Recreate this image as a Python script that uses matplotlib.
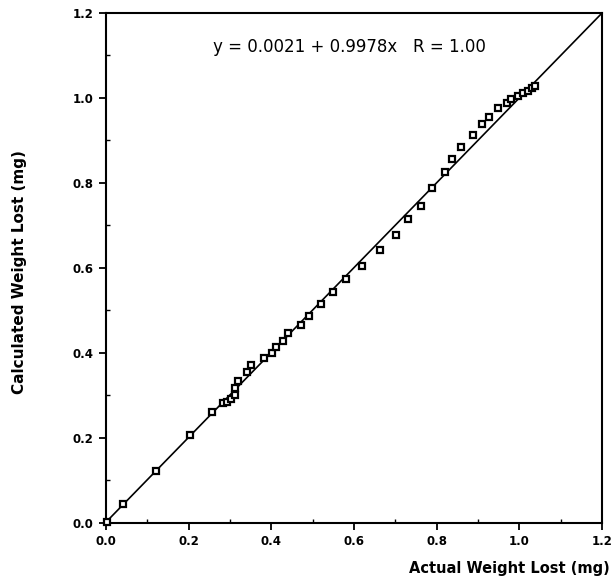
import numpy as np
import matplotlib.pyplot as plt
from matplotlib.ticker import MultipleLocator

# data
actual = [0.002, 0.040, 0.121, 0.202, 0.256, 0.283, 0.292, 0.303, 0.311, 0.312,
          0.319, 0.341, 0.350, 0.383, 0.401, 0.411, 0.429, 0.441, 0.471, 0.492,
          0.520, 0.550, 0.580, 0.619, 0.662, 0.701, 0.730, 0.762, 0.789, 0.819,
          0.837, 0.859, 0.889, 0.910, 0.927, 0.948, 0.969, 0.980, 0.998, 1.010,
          1.021, 1.031, 1.037]
calculated = [0.003, 0.044, 0.123, 0.207, 0.260, 0.282, 0.285, 0.292, 0.300, 0.317,
              0.334, 0.356, 0.372, 0.388, 0.401, 0.415, 0.428, 0.446, 0.466, 0.487,
              0.515, 0.543, 0.574, 0.605, 0.642, 0.678, 0.715, 0.746, 0.789, 0.825,
              0.856, 0.885, 0.913, 0.938, 0.956, 0.976, 0.988, 0.998, 1.005, 1.011,
              1.016, 1.023, 1.028]

intercept = 0.0021
slope = 0.9978
fit_x = [0.0, 1.2]

fig = plt.figure(figsize=(6.13, 5.85), dpi=100)
ax = fig.add_axes([0.173, 0.106, 0.809, 0.872])

ax.plot(fit_x, [intercept + slope * v for v in fit_x], color="black", lw=1.2)
ax.plot(actual, calculated, ls="none", marker="s", ms=4.8,
        mfc="white", mec="black", mew=1.6, clip_on=False, zorder=3)

ax.set_xlim(0, 1.2)
ax.set_ylim(0, 1.2)
ax.xaxis.set_major_locator(MultipleLocator(0.2))
ax.yaxis.set_major_locator(MultipleLocator(0.2))
ax.xaxis.set_minor_locator(MultipleLocator(0.1))
ax.yaxis.set_minor_locator(MultipleLocator(0.1))
ax.tick_params(which="major", direction="out", length=5, width=1.3,
               labelsize=8.5, pad=4)
ax.tick_params(which="minor", direction="in", length=3, width=1.0)
for lab in ax.get_xticklabels() + ax.get_yticklabels():
    lab.set_fontweight("bold")

for sp in ax.spines.values():
    sp.set_linewidth(1.5)

ax.text(0.59, 1.12, "y = 0.0021 + 0.9978x   R = 1.00", ha="center", va="center",
        fontsize=12)

fig.text(0.995, 0.016, "Actual Weight Lost (mg)", ha="right", va="bottom",
         fontsize=10.5, fontweight="bold")
fig.text(0.032, 0.535, "Calculated Weight Lost (mg)", ha="center", va="center",
         rotation=90, fontsize=11, fontweight="bold")

fig.savefig("out.png", dpi=100)
